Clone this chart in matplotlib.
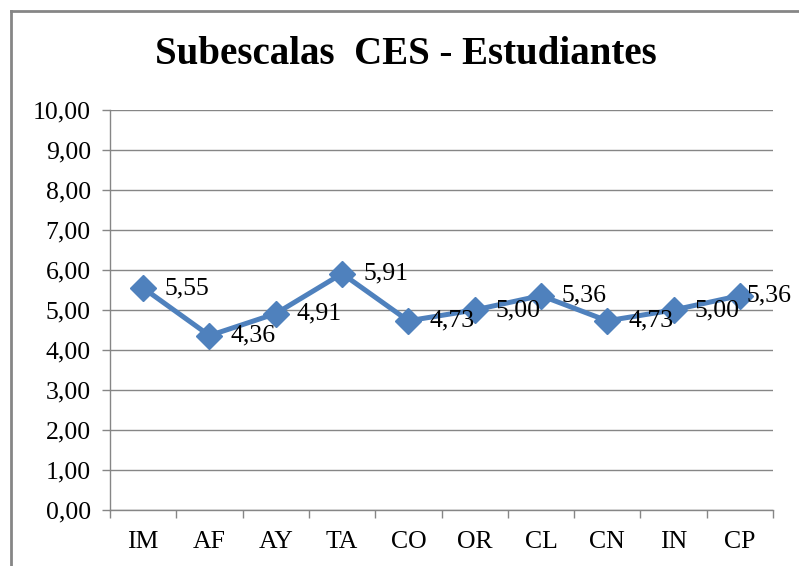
import numpy as np
import matplotlib

matplotlib.use("Agg")
import matplotlib.pyplot as plt
from matplotlib.lines import Line2D

plt.rcParams["font.family"] = ["Liberation Serif", "DejaVu Serif"]

categories = ["IM", "AF", "AY", "TA", "CO", "OR", "CL", "CN", "IN", "CP"]
values = [5.55, 4.36, 4.91, 5.91, 4.73, 5.00, 5.36, 4.73, 5.00, 5.36]
yticks = np.arange(0, 11, 1)

W, H = 799, 566
GRAY = "#868686"
BLUE = "#4F81BD"

fig = plt.figure(figsize=(W / 100, H / 100), dpi=100)
fig.patch.set_facecolor("white")

# outer chart frame (left + top visible)
fig.add_artist(Line2D([10.5 / W, 10.5 / W], [0, 1 - 10.5 / H], transform=fig.transFigure, color=GRAY, lw=2))
fig.add_artist(Line2D([10.5 / W, 1], [1 - 10.5 / H, 1 - 10.5 / H], transform=fig.transFigure, color=GRAY, lw=2))

ax = fig.add_axes([110 / W, (H - 510) / H, (773 - 110) / W, 400 / H])
x = np.arange(len(categories))
ax.plot(x, values, color=BLUE, lw=3.6, marker="D", ms=13, mfc=BLUE, mec=BLUE, zorder=3)
for xi, v in zip(x, values):
    # last label is pushed left so it stays inside the chart, like Excel does
    dx = 7 if xi == len(categories) - 1 else 21
    ax.annotate(f"{v:.2f}".replace(".", ","), (xi, v), xytext=(dx, 0), textcoords="offset pixels",
                ha="left", va="center", fontsize=18.5, color="black", zorder=4)

ax.set_xlim(-0.5, len(categories) - 0.5)
ax.set_ylim(0, 10)
ax.set_yticks(yticks)
ax.set_yticklabels([f"{t:.2f}".replace(".", ",") for t in yticks], fontsize=18.5)
ax.set_xticks(x)
ax.set_xticklabels(categories, fontsize=18.5)
ax.set_xticks(np.arange(-0.5, len(categories)), minor=True)
ax.tick_params(axis="x", which="major", length=0, pad=15)
ax.tick_params(axis="x", which="minor", length=5.8, width=1, color=GRAY, direction="out")
ax.tick_params(axis="y", length=5.8, width=1, color=GRAY, direction="out", pad=8)
ax.grid(axis="y", color=GRAY, lw=1)
ax.set_axisbelow(True)
for s in ["top", "right"]:
    ax.spines[s].set_visible(False)
for s in ["left", "bottom"]:
    ax.spines[s].set_color(GRAY)
    ax.spines[s].set_linewidth(1)

fig.text(406 / W, 1 - 54 / H, "Subescalas  CES - Estudiantes", ha="center", va="center",
         fontsize=28, fontweight="bold")

plt.savefig("out.png", dpi=100)
